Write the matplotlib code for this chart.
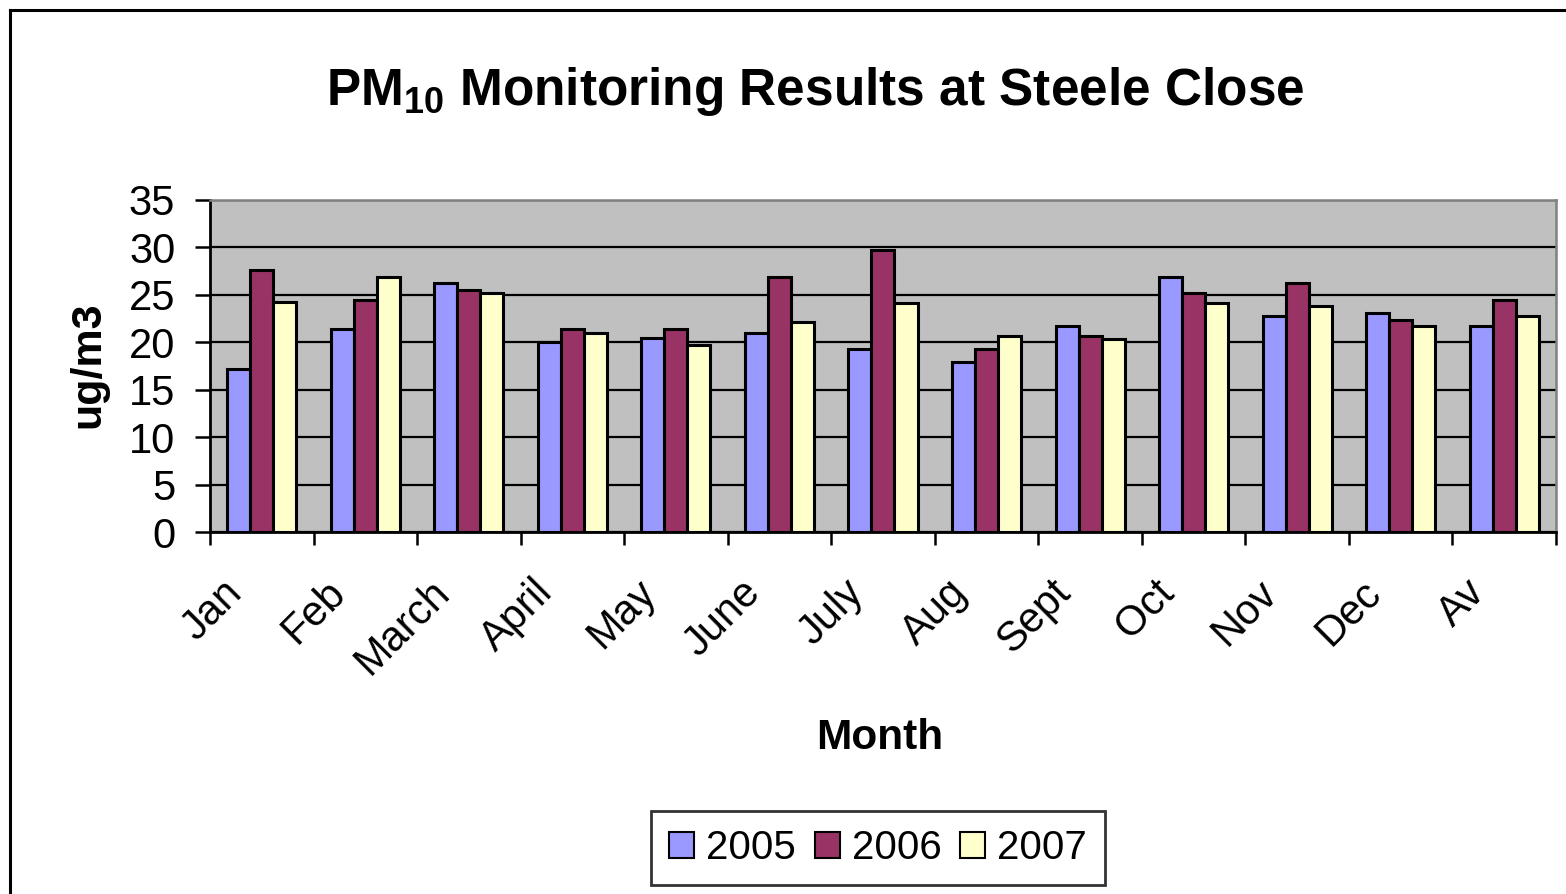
import numpy as np
import matplotlib
matplotlib.use("Agg")
import matplotlib.pyplot as plt
from matplotlib.lines import Line2D

plt.rcParams['font.family'] = ['Liberation Sans', 'DejaVu Sans']
plt.rcParams['mathtext.fontset'] = 'custom'
plt.rcParams['mathtext.rm'] = 'Liberation Sans:bold'
plt.rcParams['mathtext.bf'] = 'Liberation Sans:bold'

months = ['Jan', 'Feb', 'March', 'April', 'May', 'June', 'July', 'Aug',
          'Sept', 'Oct', 'Nov', 'Dec', 'Av']
pm_2005 = [17.2, 21.4, 26.2, 20.0, 20.4, 21.0, 19.3, 17.9, 21.7, 26.9, 22.8, 23.1, 21.7]
pm_2006 = [27.6, 24.5, 25.5, 21.4, 21.4, 26.9, 29.7, 19.3, 20.7, 25.2, 26.25, 22.4, 24.5]
pm_2007 = [24.2, 26.9, 25.2, 21.0, 19.7, 22.1, 24.1, 20.7, 20.35, 24.1, 23.8, 21.7, 22.8]
years = ['2005', '2006', '2007']
colors = ['#9999FF', '#993366', '#FFFFCC']

fig = plt.figure(figsize=(15.66, 8.94), dpi=100)
ax = fig.add_axes([0.1341, 0.4049, 0.8595, 0.3714])
ax.set_facecolor('#C0C0C0')

x = np.arange(len(months))
w = 1 / 4.5
for i, (vals, c, lab) in enumerate(zip([pm_2005, pm_2006, pm_2007], colors, years)):
    ax.bar(x + (i - 1) * w, vals, width=w, color=c, edgecolor='black',
           linewidth=2.2, label=lab, zorder=3)

ax.set_xlim(-0.5, len(months) - 0.5)
ax.set_ylim(0, 35)
ax.set_yticks(np.arange(0, 36, 5))
ax.yaxis.grid(True, color='black', linewidth=1.6, zorder=1)
ax.set_axisbelow(True)

# category boundary ticks, labels near centres (Excel style)
ax.set_xticks(np.arange(-0.5, len(months) + 0.5, 1))
ax.set_xticklabels([])
ax.set_xticks(x - 0.11, minor=True)
ax.set_xticklabels(months, minor=True, rotation=45, ha='right', va='top',
                   fontsize=30)
ax.tick_params(axis='x', which='major', length=9.5, width=1.8, direction='out')
ax.tick_params(axis='x', which='minor', length=0, pad=29)
ax.tick_params(axis='y', length=11, width=1.8, labelsize=30, pad=14)

for s in ['left', 'bottom']:
    ax.spines[s].set_color('black')
    ax.spines[s].set_linewidth(2.0)
for s in ['top', 'right']:
    ax.spines[s].set_color('#808080')
    ax.spines[s].set_linewidth(1.8)

fig.text(0.0562, 0.5917, 'ug/m3', fontsize=31, fontweight='bold', rotation=90,
         ha='center', va='center')
fig.text(0.562, 0.1622, 'Month', fontsize=30.5, fontweight='bold', ha='center',
         va='baseline')
fig.text(0.5204, 0.8826, r'PM$_{\mathbf{10}}$ Monitoring Results at Steele Close',
         fontsize=37, fontweight='bold', ha='center', va='baseline')

handles = [plt.Rectangle((0, 0), 1, 1, facecolor=c, edgecolor='black', linewidth=1.5)
           for c in colors]
leg = fig.legend(handles, years, loc='center', bbox_to_anchor=(0.5607, 0.0515),
                 ncol=3, fontsize=29, frameon=True, fancybox=False,
                 handlelength=0.62, handleheight=0.62, handletextpad=0.3,
                 columnspacing=0.47, borderpad=0.45, borderaxespad=0)
leg.get_frame().set_edgecolor('black')
leg.get_frame().set_linewidth(2.0)

# outer chart border (left and top visible)
fig.add_artist(Line2D([0.0064, 0.0064], [0.0, 0.9888], color='black', lw=2.2,
                      transform=fig.transFigure))
fig.add_artist(Line2D([0.0064, 1.0], [0.9888, 0.9888], color='black', lw=2.2,
                      transform=fig.transFigure))

fig.savefig('out.png', dpi=100)
